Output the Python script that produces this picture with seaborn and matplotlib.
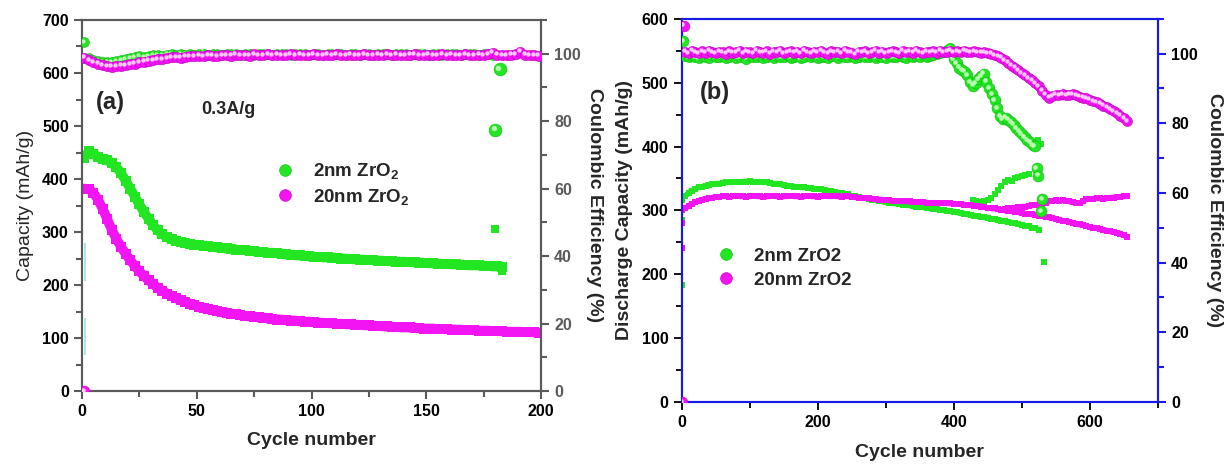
import matplotlib
matplotlib.use("Agg")
import matplotlib.pyplot as plt
import seaborn as sns
from matplotlib.transforms import offset_copy
from matplotlib.lines import Line2D
from matplotlib.ticker import MultipleLocator

sns.set_style("white")
plt.rcParams["font.family"] = ["Liberation Sans", "DejaVu Sans"]
plt.rcParams["font.weight"] = "bold"
plt.rcParams["mathtext.default"] = "regular"

# ------------------------------------------------------------------ data (a)
cycles_a = list(range(1, 200, 2))
cap_2nm_a = [440, 452, 448, 441, 437, 435, 430, 422, 411, 397,
             382, 367, 352, 338, 325, 313, 303, 296, 290, 286,
             283, 281, 279, 277, 276, 275, 274, 273, 272, 271,
             270, 269, 268, 267, 266, 266, 265, 264, 263, 262,
             261, 261, 260, 259, 258, 257, 256, 256, 255, 254,
             253, 253, 252, 252, 251, 251, 250, 250, 249, 249,
             248, 248, 247, 247, 246, 246, 245, 245, 244, 244,
             244, 243, 243, 242, 242, 241, 241, 240, 240, 240,
             239, 239, 238, 238, 237, 237, 237, 236, 236, 235,
             235, 234]
cap_20nm_a = [382, 381, 374, 361, 344, 324, 304, 287, 272, 259,
              247, 236, 226, 217, 209, 202, 195, 189, 184, 179,
              175, 171, 168, 165, 162, 159, 157, 155, 153, 151,
              149, 148, 146, 145, 143, 142, 141, 140, 139, 138,
              137, 136, 135, 135, 134, 133, 133, 132, 131, 131,
              130, 129, 129, 128, 128, 127, 127, 126, 126, 125,
              125, 124, 124, 123, 123, 122, 122, 121, 121, 120,
              120, 120, 119, 119, 118, 118, 118, 117, 117, 117,
              116, 116, 116, 115, 115, 115, 114, 114, 114, 113,
              113, 113, 112, 112, 112, 112, 111, 111, 111, 110]
ce_2nm_a = [103.5, 98.6, 98.2, 97.8, 97.5, 97.4, 97.5, 97.7, 98.0, 98.3,
            98.6, 98.9, 99.2, 99.0, 99.3, 99.5, 99.6, 99.4, 99.7, 99.8,
            99.6, 99.8, 99.7, 99.9, 99.7, 99.8, 100.0, 99.7, 99.8, 99.9,
            99.7, 99.9, 99.8, 100.0, 99.7, 99.8, 99.9, 99.7, 100.0, 99.8,
            99.9, 99.7, 99.8, 100.0, 99.8, 99.7, 99.9, 99.8, 100.0, 99.7,
            99.8, 99.9, 99.7, 99.8, 100.0, 99.8, 99.9, 99.7, 99.8, 99.9,
            99.7, 100.0, 99.8, 99.7, 99.9, 99.8, 100.0, 99.7, 99.8, 99.9,
            99.8, 99.7, 99.9, 100.0, 99.8, 99.7, 99.9, 99.8, 99.7, 100.0,
            99.8, 99.9, 99.7, 99.8, 100.0, 99.8, 99.7, 99.9, 99.8, 99.7]
ce_20nm_a = [98.8, 98.0, 97.4, 97.0, 96.6, 96.3, 96.2, 96.3, 96.5, 96.6,
             96.9, 97.1, 97.4, 97.6, 97.9, 98.1, 98.4, 98.3, 98.7, 98.9,
             99.0, 98.8, 99.1, 99.3, 99.2, 99.4, 99.3, 99.5, 99.4, 99.3,
             99.6, 99.5, 99.4, 99.7, 99.5, 99.6, 99.4, 99.8, 99.5, 99.6,
             99.9, 99.5, 99.7, 99.6, 99.5, 99.8, 99.6, 99.7, 99.5, 99.6,
             99.8, 99.6, 99.5, 99.7, 99.6, 99.8, 99.5, 99.6, 99.7, 99.5,
             99.6, 99.8, 99.6, 99.5, 99.7, 99.6, 99.8, 99.5, 99.7, 99.6,
             99.5, 99.7, 99.8, 99.6, 99.5, 99.7, 99.6, 99.5, 99.8, 99.6,
             99.7, 99.5, 99.6, 99.8, 99.6, 99.5, 99.7, 99.6, 99.9, 100.3,
             99.7, 99.6, 99.5, 99.7, 99.8, 100.6, 99.7, 99.5, 99.6, 99.4]
# isolated points (a)
extra_cap_2nm_a_x = [180, 183]
extra_cap_2nm_a_y = [305, 226]
extra_ce_2nm_a_x = [180, 182]
extra_ce_2nm_a_y = [77.5, 95.5]
extra_ce_20nm_a_x = [1]
extra_ce_20nm_a_y = [0]
cyan_x = [1.3, 1.3]
cyan_lo = [207, 68]
cyan_hi = [280, 137]

# ------------------------------------------------------------------ data (b)
cycles_b = list(range(5, 660, 5))
cap_2nm_b = [322, 328, 331, 334, 336, 337, 339, 340, 341, 342,
             342, 343, 344, 344, 344, 345, 345, 345, 345, 346,
             345, 345, 345, 344, 344, 343, 342, 342, 341, 340,
             339, 338, 337, 337, 336, 336, 335, 335, 334, 334,
             333, 332, 331, 330, 329, 328, 327, 326, 325, 323,
             322, 321, 320, 319, 318, 317, 316, 315, 314, 313,
             312, 311, 311, 310, 309, 308, 308, 307, 306, 305,
             305, 304, 303, 302, 302, 301, 300, 299, 299, 298,
             297, 296, 295, 294, 293, 292, 291, 290, 289, 288,
             287, 286, 285, 284, 283, 282, 281, 280, 279, 277,
             276, 275, 273, 272, 270]
cap_20nm_b = [303, 307, 310, 313, 315, 317, 318, 319, 320, 321,
              321, 322, 322, 321, 322, 323, 322, 322, 321, 322,
              323, 322, 322, 321, 322, 322, 323, 322, 321, 322,
              322, 323, 322, 322, 321, 322, 323, 322, 322, 321,
              322, 323, 322, 322, 323, 322, 321, 322, 322, 321,
              321, 320, 320, 319, 319, 318, 318, 317, 317, 316,
              316, 315, 315, 315, 314, 314, 314, 313, 313, 313,
              313, 312, 312, 312, 312, 311, 311, 311, 311, 310,
              310, 310, 309, 309, 308, 307, 307, 306, 305, 304,
              303, 303, 302, 301, 300, 299, 299, 298, 297, 296,
              295, 294, 294, 293, 292, 291, 290, 289, 288, 287,
              285, 284, 283, 282, 281, 279, 278, 277, 276, 274,
              273, 272, 271, 270, 268, 267, 266, 265, 263, 261,
              258]
cap2_20nm_b_x = list(range(475, 660, 5))
cap2_20nm_b = [302, 303, 304, 304, 305, 306, 306, 307, 308, 309,
               309, 310, 312, 314, 315, 316, 315, 316, 315, 314,
               313, 312, 311, 314, 318, 318, 318, 319, 319, 318,
               319, 320, 320, 321, 321, 322, 322]
cap2_2nm_b_x = [428, 432, 436, 440, 445, 450, 455, 460, 465, 470,
                475, 480, 485, 490, 495, 500, 505, 510, 524, 528]
cap2_2nm_b = [316, 315, 313, 312, 314, 317, 320, 326, 332, 338,
              345, 348, 346, 350, 352, 354, 355, 357, 410, 404]
extra_cap_2nm_b_x = [1, 1, 1, 532]
extra_cap_2nm_b_y = [316, 285, 183, 219]
extra_cap_20nm_b_x = [1, 1, 1]
extra_cap_20nm_b_y = [300, 280, 241]

ce_2nm_b_x = list(range(5, 400, 5))
ce_2nm_b = [99.2, 98.9, 99.4, 99.0, 98.7, 99.3, 99.1, 98.8, 99.5, 99.0,
            98.9, 99.3, 98.7, 99.1, 99.4, 98.8, 99.0, 99.2, 98.6, 99.3,
            99.1, 98.9, 99.4, 98.8, 99.0, 99.2, 98.7, 99.3, 99.0, 98.9,
            99.5, 98.8, 99.1, 99.3, 98.7, 99.0, 99.2, 98.9, 99.4, 98.8,
            99.1, 99.0, 98.7, 99.3, 99.2, 98.8, 99.4, 99.0, 98.9, 99.2,
            98.7, 99.1, 99.3, 98.9, 99.0, 99.4, 98.8, 99.2, 99.1, 98.7,
            99.3, 99.0, 98.9, 99.4, 99.1, 98.8, 99.3, 99.0, 99.2, 98.9,
            99.5, 99.1, 99.3, 99.6, 99.8, 100.2, 100.6, 101.0, 101.5]
ce_2nm_b_tail_x = [400, 404, 408, 412, 416, 420, 424, 428, 432, 436,
                   440, 444, 448, 452, 456, 460, 464, 468, 472, 476,
                   480, 484, 488, 492, 496, 500, 504, 508, 512, 516,
                   519, 522, 524, 530, 528, 2]
ce_2nm_b_tail = [98.5, 97.2, 96.0, 95.2, 94.8, 93.8, 91.8, 90.8, 91.5, 92.6,
                 93.6, 94.3, 92.0, 90.0, 88.4, 86.6, 84.4, 82.0, 81.2, 81.6,
                 81.0, 80.4, 79.6, 78.6, 77.8, 76.8, 76.0, 75.2, 74.6, 73.8,
                 73.4, 67.2, 65.0, 58.2, 54.8, 103.5]
ce_20nm_b = [100.6, 100.2, 100.8, 100.4, 100.1, 100.7, 100.3, 100.9, 100.5, 100.2,
             100.6, 100.4, 100.0, 100.7, 100.3, 100.5, 100.9, 100.1, 100.6, 100.4,
             100.2, 100.8, 100.5, 100.3, 100.7, 100.0, 100.6, 100.4, 100.9, 100.2,
             100.5, 100.7, 100.3, 100.6, 100.1, 100.8, 100.4, 100.2, 100.6, 100.5,
             100.9, 100.3, 100.0, 100.7, 100.4, 100.6, 100.2, 100.8, 100.5, 100.3,
             99.9, 100.6, 100.4, 100.7, 100.2, 100.5, 100.8, 100.3, 100.6, 100.1,
             100.4, 100.7, 100.5, 100.2, 100.8, 100.4, 100.6, 100.3, 100.9, 100.5,
             100.2, 100.6, 100.4, 100.7, 100.3, 100.8, 100.5, 100.6, 100.9, 100.4,
             100.7, 100.5, 100.8, 100.6, 100.4, 100.7, 100.5, 100.3, 100.4, 100.2,
             100.0, 99.6, 99.2, 98.8, 98.2, 97.4, 96.6, 96.0, 95.2, 94.4,
             93.8, 93.0, 92.3, 91.6, 90.6, 89.4, 88.2, 87.4, 87.8, 88.2,
             88.0, 88.3, 88.0, 88.2, 88.4, 88.1, 87.6, 87.4, 87.2, 86.8,
             86.4, 86.0, 85.6, 85.1, 84.6, 84.0, 83.5, 82.9, 82.2, 81.4,
             80.6]
extra_ce_20nm_b_x = [3, 1]
extra_ce_20nm_b_y = [108.0, 0.0]

labels = ["2nm ZrO$_2$", "20nm ZrO$_2$"]
labels_b = ["2nm ZrO2", "20nm ZrO2"]

# ------------------------------------------------------------------ styles
GREEN, GREEN_L, GREEN_D = "#22e622", "#b8ffb0", "#12b812"
MAG, MAG_L, MAG_D = "#f214f2", "#ffc8ff", "#c000c0"
GRAY = "#5a5a5a"
BLUE = "#1a1ae6"

fig = plt.figure(figsize=(12.24, 4.65), dpi=100)
axA = fig.add_axes([0.067, 0.159, 0.375, 0.798])
axB = fig.add_axes([0.557, 0.1355, 0.389, 0.824])
axA2 = axA.twinx()
axB2 = axB.twinx()


def squares(ax, x, y, color, s, lw=0, z=2):
    if lw:
        sns.lineplot(x=x, y=y, ax=ax, color=color, lw=lw, sort=False,
                     estimator=None, legend=False, zorder=z)
    sns.scatterplot(x=x, y=y, ax=ax, color=color, marker="s", s=s,
                    linewidth=0, legend=False, zorder=z)


def balls(ax, x, y, color, light, dark, s, z=3):
    sns.scatterplot(x=x, y=y, ax=ax, color=color, marker="o", s=s,
                    edgecolor=dark, linewidth=0.4, legend=False, zorder=z)
    hl = offset_copy(ax.transData, fig=fig, x=-1.0, y=1.0, units="points")
    sns.scatterplot(x=x, y=y, ax=ax, color=light, marker="o", s=s * 0.18,
                    linewidth=0, legend=False, zorder=z + 0.1, transform=hl)


# ---------------------------------------------------------------- panel (a)
axA.vlines(cyan_x, cyan_lo, cyan_hi, color="#9ee0e8", lw=1.2, zorder=1)
squares(axA, cycles_a[:len(cap_2nm_a)], cap_2nm_a, GREEN, 42, lw=7)
squares(axA, extra_cap_2nm_a_x, extra_cap_2nm_a_y, GREEN, 30)
squares(axA, cycles_a[:len(cap_20nm_a)], cap_20nm_a, MAG, 42, lw=7)

balls(axA2, cycles_a[:len(ce_2nm_a)], ce_2nm_a, GREEN, GREEN_L, GREEN_D, 50)
balls(axA2, extra_ce_2nm_a_x, extra_ce_2nm_a_y, GREEN, GREEN_L, GREEN_D, 85)
balls(axA2, cycles_a[:len(ce_20nm_a)], ce_20nm_a, MAG, MAG_L, MAG_D, 55, z=4)
balls(axA2, extra_ce_20nm_a_x, extra_ce_20nm_a_y, MAG, MAG_L, MAG_D, 60, z=4)

axA.set_xlim(0, 200)
axA.set_ylim(0, 700)
axA2.set_ylim(0, 110)
axA.xaxis.set_major_locator(MultipleLocator(50))
axA.xaxis.set_minor_locator(MultipleLocator(25))
axA.yaxis.set_major_locator(MultipleLocator(100))
axA.yaxis.set_minor_locator(MultipleLocator(50))
axA2.yaxis.set_major_locator(MultipleLocator(20))
axA2.yaxis.set_minor_locator(MultipleLocator(10))

for a in (axA, axA2):
    for sp in a.spines.values():
        sp.set_color(GRAY)
        sp.set_linewidth(1.5)
axA.tick_params(axis="both", which="both", direction="out", color=GRAY,
                width=1.5, labelsize=11.5, labelcolor="black")
axA.tick_params(which="major", length=6)
axA.tick_params(which="minor", length=4)
axA.tick_params(axis="y", which="both", left=True, right=False)
axA.tick_params(axis="x", which="both", bottom=True)
axA2.tick_params(axis="y", which="both", direction="out", color=GRAY,
                 width=1.5, labelsize=11.5, labelcolor=GRAY, right=True)
axA2.tick_params(which="major", length=6)
axA2.tick_params(which="minor", length=4)

axA.set_xlabel("Cycle number", fontsize=14, fontweight="bold", labelpad=9)
axA.set_ylabel("Capacity (mAh/g)", fontsize=14, fontweight="normal", labelpad=6)
axA2.set_ylabel("Coulombic Efficiency (%)", fontsize=14, fontweight="bold",
                rotation=270, labelpad=16)

axA2.text(0.061, 0.779, "(a)", transform=axA2.transAxes, fontsize=17,
          fontweight="bold", ha="center", va="center")
axA2.text(0.318, 0.758, "0.3A/g", transform=axA2.transAxes, fontsize=13,
          fontweight="bold", ha="center", va="center")


def legend_handles(size):
    hs = []
    for c, d in ((GREEN, GREEN_D), (MAG, MAG_D)):
        hs.append(Line2D([], [], ls="", marker="o", markersize=size, color=c,
                         markeredgecolor=d, markeredgewidth=0.4))
    return hs


legA = axA2.legend(legend_handles(8.5), labels, loc="center left",
                   bbox_to_anchor=(0.422, 0.558), frameon=False,
                   prop={"weight": "bold", "size": 13.5}, handlelength=1.0,
                   handletextpad=1.0, labelspacing=0.3, borderpad=0,
                   borderaxespad=0)

# ---------------------------------------------------------------- panel (b)
squares(axB, cycles_b[:len(cap_2nm_b)], cap_2nm_b, GREEN, 20, lw=4)
squares(axB, cap2_2nm_b_x, cap2_2nm_b, GREEN, 18)
squares(axB, extra_cap_2nm_b_x, extra_cap_2nm_b_y, GREEN, 14)
squares(axB, cycles_b[:len(cap_20nm_b)], cap_20nm_b, MAG, 20, lw=4, z=2.5)
squares(axB, cap2_20nm_b_x, cap2_20nm_b, MAG, 20, lw=4, z=2.5)
squares(axB, extra_cap_20nm_b_x, extra_cap_20nm_b_y, MAG, 14, z=2.5)

balls(axB2, ce_2nm_b_x, ce_2nm_b, GREEN, GREEN_L, GREEN_D, 55)
balls(axB2, ce_2nm_b_tail_x, ce_2nm_b_tail, GREEN, GREEN_L, GREEN_D, 62)
balls(axB2, cycles_b[:len(ce_20nm_b)], ce_20nm_b, MAG, MAG_L, MAG_D, 52, z=4)
balls(axB2, extra_ce_20nm_b_x, extra_ce_20nm_b_y, MAG, MAG_L, MAG_D, 60, z=4)

axB.set_xlim(0, 700)
axB.set_ylim(0, 600)
axB2.set_ylim(0, 110)
axB.xaxis.set_major_locator(MultipleLocator(200))
axB.xaxis.set_minor_locator(MultipleLocator(100))
axB.yaxis.set_major_locator(MultipleLocator(100))
axB.yaxis.set_minor_locator(MultipleLocator(50))
axB2.yaxis.set_major_locator(MultipleLocator(20))
axB2.yaxis.set_minor_locator(MultipleLocator(10))

for a in (axB, axB2):
    for sp in a.spines.values():
        sp.set_color(BLUE)
        sp.set_linewidth(1.5)
axB.tick_params(axis="both", which="both", direction="out", color="black",
                width=1.3, labelsize=11.5, labelcolor="black", bottom=True,
                left=True)
axB.tick_params(which="major", length=6)
axB.tick_params(which="minor", length=4)
axB2.tick_params(axis="y", which="both", direction="out", color=BLUE,
                 width=1.5, labelsize=11.5, labelcolor="black", right=True)
axB2.tick_params(which="major", length=6)
axB2.tick_params(which="minor", length=4)

axB.set_xlabel("Cycle number", fontsize=14, fontweight="bold", labelpad=10)
axB.set_ylabel("Discharge Capacity (mAh/g)", fontsize=14, fontweight="bold",
               labelpad=6)
axB2.set_ylabel("Coulombic Efficiency (%)", fontsize=14, fontweight="bold",
                rotation=270, labelpad=18)

axB2.text(0.069, 0.807, "(b)", transform=axB2.transAxes, fontsize=17,
          fontweight="bold", ha="center", va="center")

legB = axB2.legend(legend_handles(8.5), labels_b, loc="center left",
                   bbox_to_anchor=(0.073, 0.349), frameon=False,
                   prop={"weight": "bold", "size": 13.5}, handlelength=1.0,
                   handletextpad=1.0, labelspacing=0.35, borderpad=0,
                   borderaxespad=0)

fig.savefig("out.png", dpi=100)
